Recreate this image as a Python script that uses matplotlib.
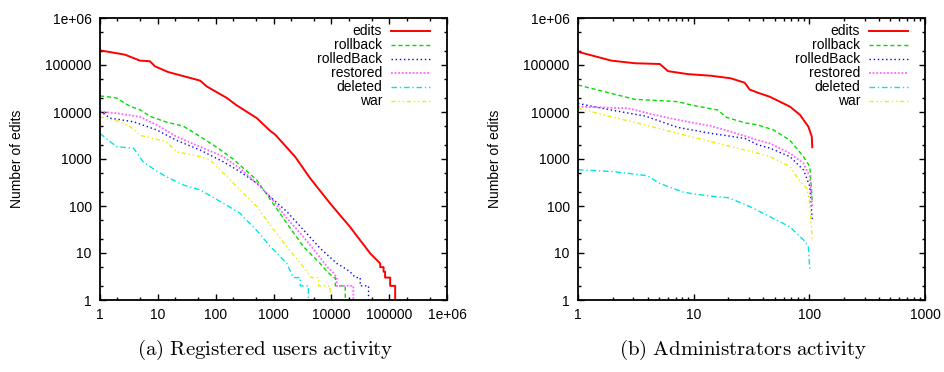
import numpy as np
import matplotlib
matplotlib.use("Agg")
import matplotlib.pyplot as plt
from matplotlib.ticker import LogLocator, NullFormatter, FuncFormatter

plt.rcParams['font.family'] = ['Liberation Sans', 'DejaVu Sans']
plt.rcParams['mathtext.fontset'] = 'cm'

series_names = ["edits", "rollback", "rolledBack", "restored", "deleted", "war"]

# ---- (a) Registered users activity ----
a_edits_x = [1, 2.7, 4.9, 7.3, 8.9, 15, 22.6, 54, 70, 155, 230, 515, 870, 1070, 2360, 4300, 9500, 21000, 47000, 61000, 70000, 70000, 80000, 80000, 85000, 85000, 104000, 104000, 127000, 127000]
a_edits_y = [205000, 166000, 124000, 120000, 94000, 71000, 62000, 46500, 35000, 20000, 13900, 7400, 4000, 3300, 1120, 390, 114, 36, 9.8, 7.1, 6, 5, 5, 4, 4, 3, 3, 2, 2, 1]

a_rollback_x = [1, 1.9, 3.3, 4.9, 7.3, 14, 27.6, 54, 110, 200, 515, 870, 1700, 3300, 6400, 8500, 11000, 11700, 11700, 17400, 17400]
a_rollback_y = [22000, 20000, 13200, 11200, 8100, 6100, 5000, 3000, 1700, 1000, 355, 140, 43, 13.6, 6, 4, 3, 3, 2, 2, 1]

a_rolledback_x = [1, 1.5, 3.8, 9.6, 21, 54, 136, 263, 515, 870, 1700, 3300, 6400, 12400, 16000, 21000, 26000, 31600, 31600, 44000, 44000]
a_rolledback_y = [10500, 7400, 6200, 4150, 2500, 1550, 870, 540, 305, 158, 76, 31, 12.6, 6, 5, 4, 3, 3, 2, 2, 1]

a_restored_x = [1, 1.94, 4.9, 9.6, 21, 54, 136, 263, 515, 870, 1700, 3300, 6400, 8500, 10500, 12400, 12400, 24000, 24000]
a_restored_y = [10200, 9400, 7900, 5300, 3000, 1820, 1120, 630, 305, 158, 55, 22, 8, 5, 4, 3, 2, 2, 1]

a_deleted_x = [1, 1.94, 3.8, 5.6, 8.9, 14, 27.6, 54, 136, 263, 515, 870, 1700, 2200, 2900, 2900, 4000, 4000]
a_deleted_y = [3500, 1820, 1700, 870, 585, 420, 280, 220, 114, 70, 30, 14, 6, 3, 3, 2, 2, 1]

a_war_x = [1, 2.2, 3.3, 4.9, 14, 21, 54, 80, 136, 263, 515, 870, 1700, 3300, 4500, 6000, 6000, 9500, 9500]
a_war_y = [7900, 6200, 4900, 3200, 2340, 1430, 1120, 950, 500, 220, 97, 40, 13.6, 5, 3, 3, 2, 2, 1]

# ---- (b) Administrators activity ----
b_edits_x = [1, 1.94, 3.1, 5.1, 6.0, 8.9, 14.2, 21, 27.6, 30.5, 36, 45.7, 68, 83, 98, 105, 106]
b_edits_y = [191000, 124000, 109000, 105000, 74000, 64000, 59000, 52000, 42000, 30000, 25700, 21000, 13000, 8700, 4900, 3000, 1780]

b_rollback_x = [1, 1.7, 3.1, 7.3, 9.5, 16.2, 19.2, 27.6, 36, 49, 68, 89, 101, 105, 106]
b_rollback_y = [37500, 27000, 18600, 16600, 14100, 11000, 7700, 5900, 5300, 4150, 2500, 1120, 690, 186, 115]

b_rolledback_x = [1, 1.94, 3.8, 7.3, 14.2, 27.6, 36, 45.7, 68, 89, 101, 106]
b_rolledback_y = [15200, 11000, 8200, 4700, 3500, 2750, 2000, 1700, 1120, 585, 260, 50]

b_restored_x = [1, 2.7, 4.6, 7.3, 14.2, 18.5, 27.6, 36, 45.7, 68, 89, 101, 106]
b_restored_y = [13000, 12000, 8700, 6800, 5000, 4150, 3100, 2500, 2150, 1320, 810, 420, 97]

b_deleted_x = [1, 2, 3, 4, 5, 6, 8, 10, 15, 20, 25, 30.7, 45.7, 68, 92, 98, 101]
b_deleted_y = [590, 540, 480, 440, 310, 260, 200, 180, 160, 150, 120, 97, 59, 36, 17.5, 13.6, 4.4]

b_war_x = [1, 1.94, 3.8, 7.3, 14.2, 36, 45.7, 68, 83, 95, 101, 106]
b_war_y = [12000, 7900, 5300, 3500, 2340, 1320, 1120, 690, 330, 240, 114, 19]

a_data = [(a_edits_x, a_edits_y), (a_rollback_x, a_rollback_y), (a_rolledback_x, a_rolledback_y),
          (a_restored_x, a_restored_y), (a_deleted_x, a_deleted_y), (a_war_x, a_war_y)]
b_data = [(b_edits_x, b_edits_y), (b_rollback_x, b_rollback_y), (b_rolledback_x, b_rolledback_y),
          (b_restored_x, b_restored_y), (b_deleted_x, b_deleted_y), (b_war_x, b_war_y)]

styles = [
    dict(color='#ff0000', lw=1.4, ls='-'),
    dict(color='#00dd00', lw=1.0, ls=(0, (3, 2))),
    dict(color='#0000ff', lw=1.0, ls=(0, (1, 2))),
    dict(color='#ff66ff', lw=1.3, ls=(0, (1, 1))),
    dict(color='#00e5e5', lw=1.0, ls=(0, (4, 2, 1, 2))),
    dict(color='#eeee00', lw=1.0, ls=(0, (3, 2, 1, 2, 1, 2))),
]

captions = [r'$\mathrm{(a)\ Registered\ users\ activity}$', r'$\mathrm{(b)\ Administrators\ activity}$']

def fmt(v, pos):
    if v >= 1e6 - 1:
        return '1e+06'
    return '%d' % round(v)

fig = plt.figure(figsize=(9.44, 3.72), dpi=100)
W, H = 944, 372
boxes = [(100, 18, 347, 282), (578, 18, 347, 282)]
xmaxs = [1e6, 1000]

for i, (data, box, xmax) in enumerate(zip([a_data, b_data], boxes, xmaxs)):
    l, t, w, h = box
    ax = fig.add_axes([l / W, 1 - (t + h) / H, w / W, h / H])
    for name, (xs, ys), st in zip(series_names, data, styles):
        ax.plot(xs, ys, label=name, **st)
    ax.set_xscale('log')
    ax.set_yscale('log')
    ax.set_xlim(1, xmax)
    ax.set_ylim(1, 1e6)
    ax.xaxis.set_major_locator(LogLocator(base=10, numticks=20))
    ax.yaxis.set_major_locator(LogLocator(base=10, numticks=20))
    if i == 0:
        ax.xaxis.set_minor_locator(LogLocator(base=10, subs=(2, 5), numticks=20))
    else:
        ax.xaxis.set_minor_locator(LogLocator(base=10, subs=np.arange(2, 10), numticks=20))
    ax.yaxis.set_minor_locator(LogLocator(base=10, subs=(2, 5), numticks=20))
    ax.xaxis.set_major_formatter(FuncFormatter(fmt))
    ax.yaxis.set_major_formatter(FuncFormatter(fmt))
    ax.xaxis.set_minor_formatter(NullFormatter())
    ax.yaxis.set_minor_formatter(NullFormatter())
    ax.tick_params(which='both', direction='in', top=True, right=True, labelsize=10, width=1.0)
    ax.tick_params(which='major', length=4.5, pad=6)
    ax.tick_params(which='minor', length=2.5)
    for s in ax.spines.values():
        s.set_linewidth(1.3)
    ax.set_ylabel('Number of edits', fontsize=10, labelpad=15)
    leg = ax.legend(loc='upper right', bbox_to_anchor=(1 - 17 / w, 1 - 6 / h), frameon=False,
                    markerfirst=False, fontsize=10, handlelength=2.8, handleheight=0.5,
                    labelspacing=0.0, borderaxespad=0.0, borderpad=0.0, handletextpad=0.65)
    for txt in leg.get_texts():
        txt.set_ha('right')
    fig.text((l + w / 2 - 8) / W, 1 - 350 / H, captions[i], ha='center', va='center', fontsize=15)

fig.savefig('out.png', dpi=100)
